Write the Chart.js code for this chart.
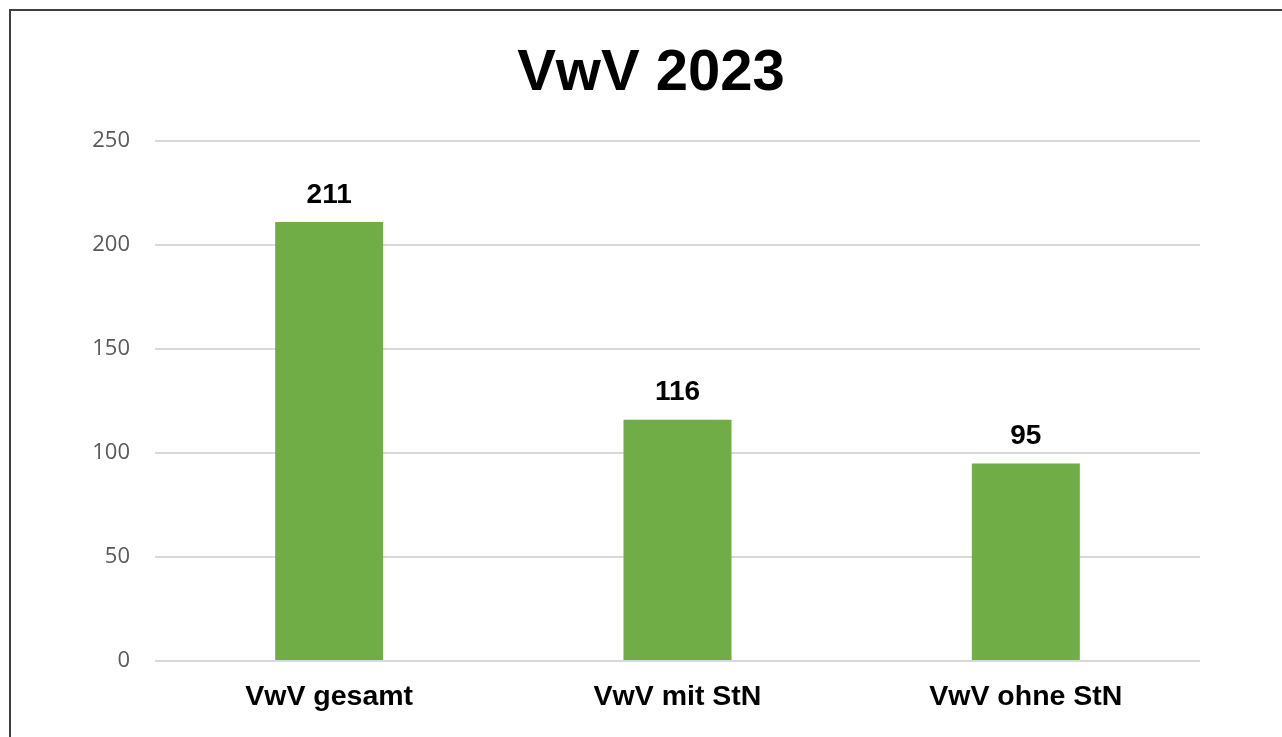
<!DOCTYPE html>
<html>
<head>
<meta charset="utf-8">
<script src="https://cdn.jsdelivr.net/npm/chart.js@4.4.1/dist/chart.umd.min.js"></script>
<style>
    html, body { margin: 0; padding: 0; background: #fff; overflow: hidden; }
    #wrap { position: relative; width: 1282px; height: 737px; }
    #myChart { position: absolute; left: 0; top: 0; }
    #frame { position: absolute; left: 9px; top: 9px; width: 1400px; height: 900px; border: 2px solid #3f3f3f; pointer-events: none; }
</style>
</head>
<body>
<div id="wrap">
    <canvas id="myChart" width="1282" height="737"></canvas>
    <div id="frame"></div>
</div>
<script>
const categories = ["VwV gesamt", "VwV mit StN", "VwV ohne StN"]
const values = [211, 116, 95]
const yTicks = [0, 50, 100, 150, 200, 250]
const titleText = "VwV 2023"

const ctx = document.getElementById('myChart')

// draws the number above each bar
const valueLabels = {
    id: 'valueLabels',
    afterDatasetsDraw(chart) {
        const c = chart.ctx
        const meta = chart.getDatasetMeta(0)
        c.save()
        c.font = 'bold 28px "Liberation Sans", Arial, sans-serif'
        c.fillStyle = '#000'
        c.textAlign = 'center'
        c.textBaseline = 'bottom'
        meta.data.forEach((bar, i) => {
            c.fillText(values[i], bar.x, bar.y - 13)
        })
        c.restore()
    }
}

const chart = new Chart(ctx, {
    type: 'bar',
    data: {
        labels: categories,
        datasets: [{
            data: values,
            backgroundColor: '#70AD47',
            borderWidth: 0,
            categoryPercentage: 1,
            barPercentage: 0.31
        }]
    },
    plugins: [valueLabels],
    options: {
        responsive: false,
        animation: false,
        layout: { padding: { left: 20, right: 0, top: 0, bottom: 0 } },
        plugins: {
            legend: { display: false },
            tooltip: { enabled: false },
            title: {
                display: true,
                text: titleText,
                color: '#000',
                font: { family: '"Liberation Sans", Arial, sans-serif', size: 58, weight: 'bold', lineHeight: 1.2 },
                padding: { top: 39, bottom: 32.4 }
            }
        },
        scales: {
            x: {
                grid: { display: false },
                border: { display: false },
                ticks: {
                    color: '#000',
                    padding: 11,
                    font: { family: '"Liberation Sans", Arial, sans-serif', size: 28.5, weight: 'bold' }
                },
                afterFit(axis) { axis.height = 76 }
            },
            y: {
                min: 0,
                max: 250,
                afterBuildTicks(axis) { axis.ticks = yTicks.map(v => ({ value: v })) },
                grid: { color: '#d9d9d9', lineWidth: 2, drawTicks: false },
                border: { display: false },
                ticks: {
                    color: '#595959',
                    padding: 25,
                    font: { family: '"Open Sans", sans-serif', size: 22 }
                },
                afterFit(axis) { axis.width = 135 }
            },
            // empty right axis, only keeps space so the title centres like the original
            yRight: {
                position: 'right',
                grid: { display: false },
                border: { display: false },
                ticks: { display: false },
                afterFit(axis) { axis.width = 82 }
            }
        }
    }
})
</script>
</body>
</html>
